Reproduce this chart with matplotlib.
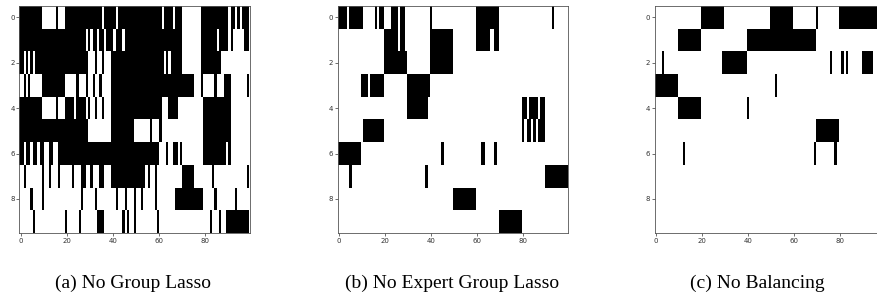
import numpy as np
import matplotlib
matplotlib.use("Agg")
import matplotlib.pyplot as plt

n_rows, n_cols = 10, 100

# Active (black) column runs for each row (start, end inclusive)
no_group_lasso = [
    [(0, 9), (16, 16), (20, 35), (37, 41), (43, 61), (63, 66), (68, 70), (79, 90), (92, 93), (95, 95), (97, 99)],
    [(0, 28), (30, 30), (32, 33), (35, 36), (38, 40), (42, 44), (46, 70), (79, 85), (87, 90), (92, 92), (98, 99)],
    [(0, 1), (3, 3), (5, 5), (7, 29), (33, 33), (36, 36), (40, 62), (64, 64), (66, 70), (79, 87)],
    [(2, 2), (4, 4), (10, 19), (25, 25), (29, 29), (32, 32), (35, 35), (40, 75), (79, 79), (85, 85), (89, 91), (99, 99)],
    [(0, 9), (16, 16), (20, 23), (25, 28), (30, 30), (33, 33), (36, 36), (40, 61), (65, 68), (80, 91)],
    [(0, 29), (40, 49), (57, 57), (61, 61), (80, 91)],
    [(0, 1), (3, 4), (6, 7), (9, 10), (13, 14), (17, 60), (64, 64), (67, 68), (70, 70), (80, 89), (91, 91)],
    [(2, 2), (10, 10), (13, 13), (17, 17), (23, 23), (27, 28), (31, 31), (35, 36), (40, 54), (56, 56), (59, 59), (71, 75), (84, 84), (99, 99)],
    [(5, 5), (10, 10), (27, 27), (33, 33), (42, 42), (46, 46), (50, 50), (53, 53), (59, 59), (68, 79), (85, 85), (94, 94)],
    [(6, 6), (20, 20), (26, 26), (34, 36), (45, 45), (47, 47), (50, 50), (60, 60), (83, 83), (87, 87), (90, 99)],
]

no_expert_group_lasso = [
    [(0, 3), (5, 10), (16, 16), (18, 19), (23, 25), (27, 28), (40, 40), (60, 69), (93, 93)],
    [(20, 25), (27, 28), (40, 49), (60, 65), (68, 69)],
    [(20, 29), (40, 49)],
    [(10, 12), (14, 19), (30, 39)],
    [(30, 38), (80, 81), (83, 86), (88, 89)],
    [(11, 19), (80, 80), (82, 83), (85, 85), (87, 89)],
    [(0, 9), (45, 45), (62, 63), (68, 68)],
    [(5, 5), (38, 38), (90, 99)],
    [(50, 59)],
    [(70, 79)],
]

no_balancing = [
    [(20, 29), (50, 59), (70, 70), (80, 99)],
    [(10, 19), (40, 69)],
    [(3, 3), (29, 39), (76, 76), (81, 81), (83, 83), (90, 94)],
    [(0, 9), (52, 52)],
    [(10, 19), (40, 40)],
    [(70, 79)],
    [(12, 12), (69, 69), (78, 78)],
    [],
    [],
    [],
]

captions = ["(a) No Group Lasso", "(b) No Expert Group Lasso", "(c) No Balancing"]
x_ticks = [0, 20, 40, 60, 80]
y_ticks = [0, 2, 4, 6, 8]


def to_matrix(runs):
    m = np.zeros((n_rows, n_cols))
    for r, row in enumerate(runs):
        for a, b in row:
            m[r, a:b + 1] = 1
    return m


W, H = 878, 297
fig = plt.figure(figsize=(W / 100, H / 100), dpi=100)
fig.patch.set_facecolor("white")

lefts = [19.5, 337.6, 655.0]
cap_centers = [133.0, 452.0, 757.0]
ax_w, top_px, bot_px = 230.0, 6.0, 233.0
for left, cx, runs, cap in zip(lefts, cap_centers,
                               [no_group_lasso, no_expert_group_lasso, no_balancing], captions):
    ax = fig.add_axes([left / W, 1 - bot_px / H, ax_w / W, (bot_px - top_px) / H])
    ax.imshow(to_matrix(runs), cmap="gray_r", vmin=0, vmax=1, aspect="auto",
              interpolation="nearest")
    ax.set_xticks(x_ticks)
    ax.set_yticks(y_ticks)
    ax.tick_params(labelsize=5, length=2, width=0.5, pad=1.5, colors="#333333")
    for s in ax.spines.values():
        s.set_linewidth(0.6)
        s.set_color("#555555")
    fig.text(cx / W, 1 - 288 / H, cap, ha="center", va="baseline",
             fontsize=14, family="Liberation Serif")

fig.savefig("out.png", dpi=100)
